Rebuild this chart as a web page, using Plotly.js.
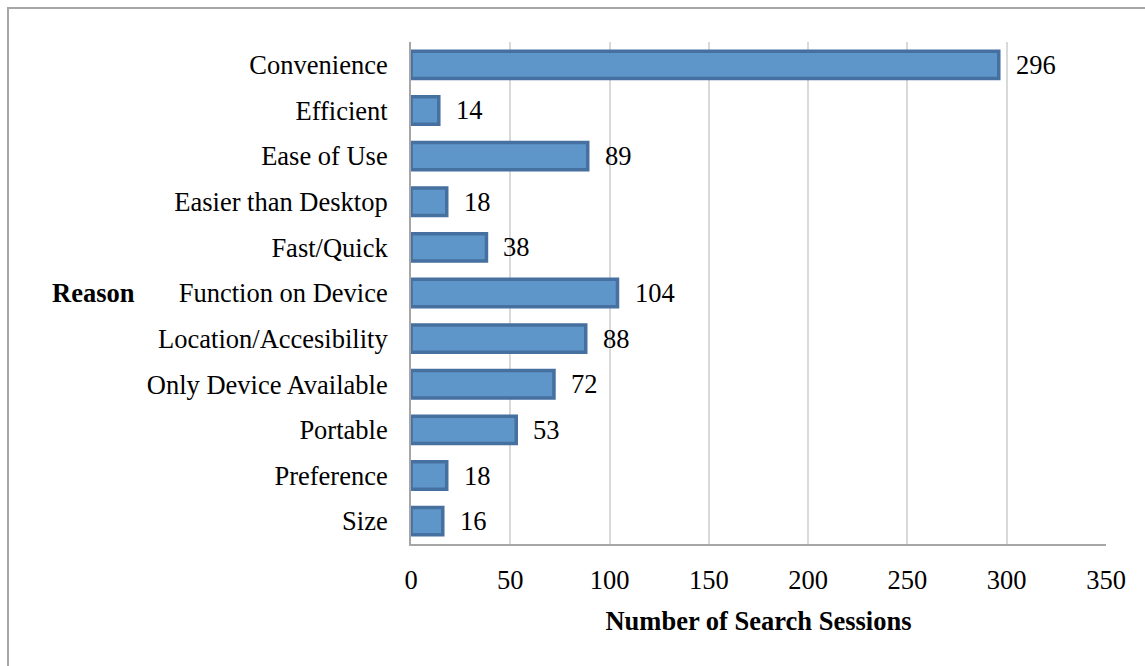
<!DOCTYPE html>
<html><head><meta charset="utf-8">
<script src="https://cdn.plot.ly/plotly-3.0.1.min.js"></script>
<style>
html,body{margin:0;padding:0;background:#fff;overflow:hidden;}
#frame{position:absolute;left:7px;top:7px;width:1200px;height:700px;border-left:2px solid #a6a6a6;border-top:2px solid #a6a6a6;}
#chart{position:absolute;left:0;top:0;width:1145px;height:666px;}
</style></head>
<body>
<div id="frame"></div>
<div id="chart"></div>
<script>
const categories = ["Convenience","Efficient","Ease of Use","Easier than Desktop","Fast/Quick","Function on Device","Location/Accesibility","Only Device Available","Portable","Preference","Size"];
const sessions = [296,14,89,18,38,104,88,72,53,18,16];
const xTicks = [0,50,100,150,200,250,300,350];

const FONT = "Liberation Serif, Times New Roman, serif";
const FS = 26.5;

const trace = {
  type: 'bar', orientation: 'h',
  x: sessions, y: categories,
  marker: {color: '#5f96ca', line: {color: '#46709f', width: 3.5}},
  width: 0.6,
  hoverinfo: 'x+y'
};

const annotations = categories.map((c, i) => ({
  x: sessions[i], y: c, xref: 'x', yref: 'y',
  text: String(sessions[i]), showarrow: false,
  xanchor: 'left', xshift: 15,
  font: {family: FONT, size: FS, color: '#000'}
}));
annotations.push({
  xref: 'paper', yref: 'paper', x: -0.52, y: 0.5,
  xanchor: 'left', yanchor: 'middle', showarrow: false,
  text: '<b>Reason</b>', font: {family: FONT, size: FS, color: '#000'}
});

const layout = {
  width: 1145, height: 666,
  margin: {l: 411, r: 39, t: 42, b: 122, pad: 0},
  paper_bgcolor: 'rgba(0,0,0,0)', plot_bgcolor: 'rgba(0,0,0,0)',
  showlegend: false,
  font: {family: FONT, size: FS, color: '#000'},
  xaxis: {
    range: [0, 350], tickvals: xTicks, ticktext: xTicks.map(String),
    showgrid: true, gridcolor: '#d9d9d9', gridwidth: 2,
    showline: true, linecolor: '#a6a6a6', linewidth: 2,
    zeroline: false, ticks: '', ticklabelstandoff: 11,
    tickfont: {family: FONT, size: FS, color: '#000'},
    title: {text: '<b>Number of Search Sessions</b>', font: {family: FONT, size: FS, color: '#000'}, standoff: 18}
  },
  yaxis: {
    autorange: 'reversed', type: 'category',
    showline: true, linecolor: '#a6a6a6', linewidth: 2,
    showgrid: false, zeroline: false, ticks: '',
    ticklabelstandoff: 16,
    tickfont: {family: FONT, size: FS, color: '#000'}
  },
  annotations: annotations
};

Plotly.newPlot('chart', [trace], layout, {staticPlot: true});
</script>
</body></html>
